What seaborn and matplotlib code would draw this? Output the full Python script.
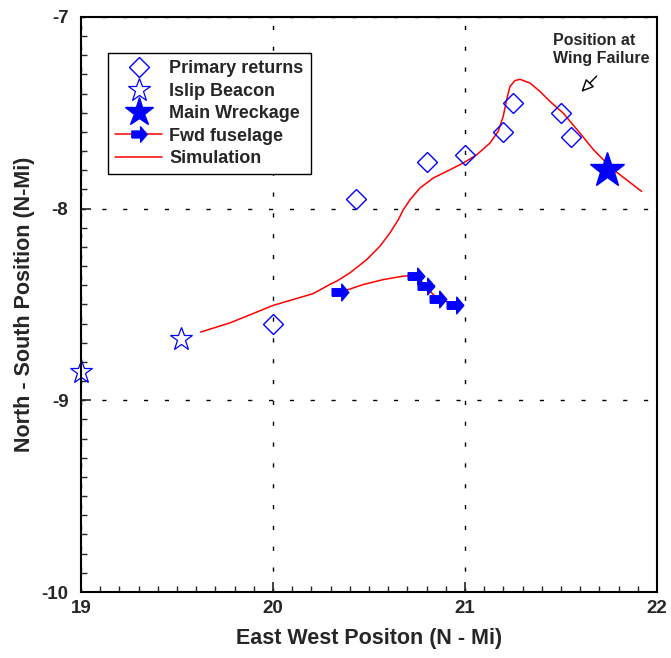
import numpy as np
import pandas as pd
import matplotlib
matplotlib.use('Agg')
import matplotlib.pyplot as plt
import seaborn as sns
from matplotlib.lines import Line2D
from matplotlib.ticker import MultipleLocator

primary_x = [20.0, 20.43, 20.80, 21.0, 21.20, 21.25, 21.50, 21.55]
primary_y = [-8.60, -7.95, -7.755, -7.72, -7.60, -7.45, -7.50, -7.625]

islip_x = [19.0, 19.52]
islip_y = [-8.85, -8.68]

wreck_x = [21.74]
wreck_y = [-7.80]

fwd_x = [20.35, 20.745, 20.797, 20.861, 20.948]
fwd_y = [-8.434, -8.349, -8.405, -8.470, -8.503]

fwd_line_x = [20.366, 20.47, 20.575, 20.679, 20.74, 20.766, 20.80, 20.852, 20.922, 20.948, 20.983]
fwd_line_y = [-8.431, -8.396, -8.370, -8.352, -8.349, -8.370, -8.413, -8.465, -8.491, -8.503, -8.509]

sim_x = [19.623, 19.776, 20.0, 20.21, 20.297, 20.332, 20.401, 20.488, 20.557, 20.609,
         20.653, 20.679, 20.714, 20.766, 20.835, 20.922, 20.991, 21.061, 21.130, 21.173,
         21.199, 21.217, 21.234, 21.260, 21.286, 21.339, 21.391, 21.443, 21.512, 21.599,
         21.667, 21.686, 21.773, 21.807, 21.920]
sim_y = [-8.644, -8.596, -8.505, -8.443, -8.395, -8.378, -8.335, -8.266, -8.196, -8.127,
         -8.057, -8.005, -7.953, -7.892, -7.840, -7.797, -7.762, -7.719, -7.658, -7.597,
         -7.519, -7.432, -7.363, -7.332, -7.325, -7.345, -7.389, -7.441, -7.502, -7.606,
         -7.690, -7.710, -7.797, -7.823, -7.910]

sns.set_style('ticks')
plt.rcParams['font.family'] = ['Liberation Sans', 'DejaVu Sans']
plt.rcParams['font.weight'] = 'bold'
plt.rcParams['axes.unicode_minus'] = False

# right pointing arrow marker
arrow = [(-1, -0.45), (0.15, -0.45), (0.15, -1), (1, 0), (0.15, 1), (0.15, 0.45), (-1, 0.45), (-1, -0.45)]

fig = plt.figure(figsize=(6.71, 6.58), dpi=100)
ax = fig.add_axes([0.1207, 0.1003, 0.8584, 0.8739])

sns.lineplot(x=sim_x, y=sim_y, sort=False, estimator=None, color='red', lw=1.1, ax=ax)
sns.lineplot(x=fwd_line_x, y=fwd_line_y, sort=False, estimator=None, color='red', lw=1.1, ax=ax)
ax.plot(fwd_x, fwd_y, ls='none', marker=arrow, ms=12, color='blue', mec='blue')
ax.plot(primary_x, primary_y, ls='none', marker='D', ms=10, mfc='none', mec='blue', mew=1.0)
ax.plot(islip_x, islip_y, ls='none', marker='*', ms=17, mfc='none', mec='blue', mew=0.9, clip_on=False)
ax.plot(wreck_x, wreck_y, ls='none', marker='*', ms=26, color='blue')

ax.set_xlim(19, 22)
ax.set_ylim(-10, -7)
ax.xaxis.set_major_locator(MultipleLocator(1))
ax.yaxis.set_major_locator(MultipleLocator(1))
ax.xaxis.set_minor_locator(MultipleLocator(0.1))
ax.yaxis.set_minor_locator(MultipleLocator(0.1))
ax.tick_params(which='major', direction='in', length=7, width=1.2, labelsize=13.5, pad=6)
ax.tick_params(axis='y', which='major', pad=9)
ax.tick_params(which='minor', direction='in', length=4, width=1.0)
for lab in ax.get_xticklabels() + ax.get_yticklabels():
    lab.set_fontweight('bold')
for s in ax.spines.values():
    s.set_visible(True)
    s.set_linewidth(1.5)
    s.set_color('black')
ax.grid(True, which='major', color='black', ls=(0, (3, 12)), lw=1.0)

ax.set_xlabel('East West Positon (N - Mi)', fontsize=15.5, fontweight='bold', labelpad=8)
ax.set_ylabel('North - South Position (N-Mi)', fontsize=15.5, fontweight='bold', labelpad=5)

ax.annotate('', xy=(21.606, -7.391), xytext=(21.686, -7.308),
            arrowprops=dict(arrowstyle='-|>,head_length=0.75,head_width=0.35', fc='white', ec='black',
                            lw=1, shrinkA=0, shrinkB=0))
ax.text(21.458, -7.172, 'Position at\nWing Failure', ha='left', va='center', fontsize=11.5,
        fontweight='bold', linespacing=1.25)

handles = [
    Line2D([], [], ls='none', marker='D', ms=10, mfc='none', mec='blue'),
    Line2D([], [], ls='none', marker='*', ms=17, mfc='none', mec='blue', mew=0.9),
    Line2D([], [], ls='none', marker='*', ms=21, color='blue'),
    Line2D([], [], color='red', lw=1.1, marker=arrow, ms=11, mfc='blue', mec='blue'),
    Line2D([], [], color='red', lw=1.1),
]
labels = ['Primary returns', 'Islip Beacon', 'Main Wreckage', 'Fwd fuselage', 'Simulation']
leg = ax.legend(handles, labels, loc='upper left', bbox_to_anchor=(0.047, 0.937), fancybox=False,
                edgecolor='black', framealpha=1, prop={'weight': 'bold', 'size': 13},
                handlelength=2.6, labelspacing=0.3, borderpad=0.4, handletextpad=0.4,
                borderaxespad=0)
leg.get_frame().set_linewidth(1.0)

plt.savefig('out.png', dpi=100)
plt.close()
